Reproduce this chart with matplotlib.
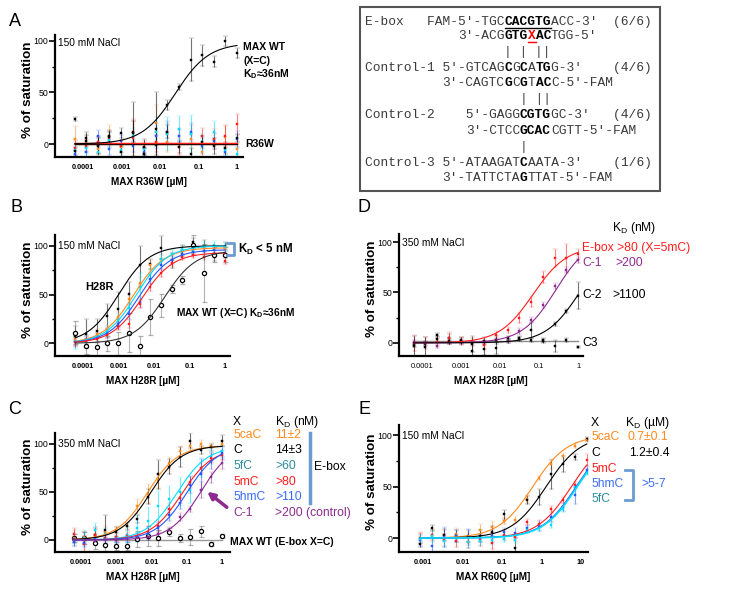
import matplotlib
matplotlib.use("Agg")
import matplotlib.pyplot as plt
import numpy as np
from matplotlib.colors import to_rgba
from matplotlib.lines import Line2D
from matplotlib.patches import Rectangle, FancyArrowPatch
from matplotlib.ticker import NullLocator

plt.rcParams["font.family"] = ["Liberation Sans", "DejaVu Sans"]
plt.rcParams["mathtext.fontset"] = "custom"
plt.rcParams["mathtext.rm"] = "Liberation Sans"
plt.rcParams["mathtext.bf"] = "Liberation Sans:bold"

W, H = 734, 596

# Colours
ORANGE = "#FF8A1E"
RED = "#FF1E1E"
BLUE = "#2458FF"
CYAN = "#00DDFF"
TEAL = "#2B8C9E"
PURPLE = "#8B2A8F"
BRACKET = "#6C9BD2"
TXT_BLUE = "#3B6CF6"

# Concentrations (uM), two-fold dilution series
conc_h = [0.000061, 0.000122, 0.000244, 0.000488, 0.000977, 0.00195, 0.0039,
          0.0078, 0.0156, 0.03125, 0.0625, 0.125, 0.25, 0.5, 1.0]
conc_r60q = [0.00085, 0.0017, 0.0034, 0.0068, 0.0137, 0.0273, 0.0547, 0.109,
             0.219, 0.4375, 0.875, 1.75, 3.5, 7.0, 14.0]

# ---- Panel A: MAX R36W, 150 mM NaCl
a_wt = [24, 3, -1, 7, 11, 11, -3, 15, 38, 55, 82, 86, 80, 100, 88]
a_wt_err = [2, 6, 8, 5, 5, 30, 8, 35, 5, 3, 21, 10, 5, 5, 5]
a_wt_fit = (98, 0.025)
a_r36w = {
    ORANGE: [5, 1, -5, 8, -3, 12, -10, 20, 2, 8, 5, -8, 4, 7, -5],
    RED: [-4, -2, 2, 5, -2, 6, -3, 2, 10, -3, 10, 8, 5, 8, 19],
    BLUE: [-10, -8, 8, -5, 3, -2, -8, 8, 12, 8, 12, -2, 3, -8, 5],
    CYAN: [-6, -4, -8, 4, -6, 8, -5, 12, 10, 15, 10, 2, 12, -6, -10],
    "black": [-7, 6, -2, 8, -8, 12, -10, -1, 12, -3, -10, 2, -2, -4, 6],
}
a_r36w_err = {
    ORANGE: [12, 8, 6, 10, 6, 10, 6, 18, 10, 8, 10, 8, 6, 10, 8],
    RED: [8, 6, 6, 8, 6, 18, 6, 10, 10, 8, 8, 8, 10, 10, 10],
    BLUE: [6, 8, 6, 6, 6, 6, 4, 12, 10, 6, 8, 8, 8, 4, 8],
    CYAN: [8, 6, 6, 8, 6, 8, 6, 14, 16, 12, 18, 8, 10, 6, 6],
    "black": [4, 6, 8, 6, 6, 10, 6, 10, 6, 6, 6, 6, 8, 6, 4],
}
a_r36w_level = {ORANGE: 0.5, "black": -0.3, RED: 0.9}

# ---- Panel B: MAX H28R, 150 mM NaCl
b_series = {
    "black": [8, 10, 13, 28, 35, 51, 80, 81, 98, 85, 95, 104, 100, 92, 100],
    ORANGE: [4, 3, 10, 14, 27, 45, 62, 80, 86, 90, 96, 95, 98, 96, 97],
    CYAN: [2, 1, 5, 12, 24, 36, 58, 70, 86, 92, 97, 95, 100, 101, 99],
    BLUE: [1, 3, 6, 10, 20, 30, 42, 66, 80, 85, 92, 94, 95, 96, 93],
    RED: [1, 2, 4, 9, 18, 20, 40, 58, 72, 82, 88, 90, 88, 90, 84],
}
b_err = {
    "black": [10, 15, 12, 12, 18, 12, 20, 5, 12, 8, 6, 4, 6, 8, 4],
    ORANGE: [6, 6, 5, 5, 5, 5, 6, 5, 5, 4, 4, 3, 3, 3, 3],
    CYAN: [8, 6, 6, 6, 6, 6, 14, 6, 6, 4, 4, 4, 4, 4, 4],
    BLUE: [5, 5, 5, 5, 5, 5, 5, 5, 5, 4, 4, 4, 4, 4, 4],
    RED: [4, 4, 4, 4, 4, 4, 4, 4, 4, 3, 3, 3, 3, 3, 3],
}
b_fit = {"black": (100, 0.001), ORANGE: (98, 0.0026), CYAN: (100, 0.0032),
         BLUE: (96, 0.0038), RED: (93, 0.0046)}
b_wt = [11, -3, -4, 0, 0, 11, -3, 27, 39, 56, 65, 101, 72, 91, 91]
b_wt_err = [12, 8, 10, 8, 12, 20, 10, 18, 12, 4, 4, 10, 30, 8, 8]
b_wt_fit = (95, 0.02)

# ---- Panel C: MAX H28R, 350 mM NaCl
c_series = {
    ORANGE: [2, 3, 5, 8, 10, 15, 35, 48, 62, 80, 92, 97, 100, 98, 100],
    "black": [0, 2, 5, 10, 8, 14, 22, 45, 68, 76, 86, 103, 93, 96, 103],
    CYAN: [1, 2, 10, 6, 3, 5, 12, 20, 35, 42, 50, 52, 75, 87, 92],
    RED: [6, -4, 5, 2, 3, 4, 3, 8, 14, 32, 44, 60, 75, 85, 88],
    BLUE: [-2, -3, 2, 1, 0, 2, 3, 6, 12, 26, 38, 57, 68, 82, 90],
    PURPLE: [1, 0, -1, 1, 0, 2, 2, 3, 6, 10, 24, 32, 52, 65, 80],
}
c_err = {
    ORANGE: [8, 6, 6, 6, 4, 4, 8, 10, 8, 6, 6, 4, 4, 3, 3],
    "black": [3, 6, 8, 16, 5, 4, 4, 8, 15, 8, 10, 8, 4, 4, 6],
    CYAN: [6, 8, 8, 6, 6, 8, 14, 14, 16, 14, 15, 14, 10, 8, 6],
    RED: [6, 8, 6, 6, 4, 4, 4, 6, 6, 6, 6, 6, 6, 5, 5],
    BLUE: [4, 4, 4, 4, 4, 4, 4, 6, 6, 6, 6, 8, 16, 8, 6],
    PURPLE: [2, 2, 2, 2, 2, 2, 2, 3, 3, 3, 4, 3, 8, 6, 6],
}
c_fit = {ORANGE: (98, 0.0076), "black": (98, 0.0094), CYAN: (97, 0.052),
         RED: (95, 0.071), BLUE: (98, 0.1), PURPLE: (100, 0.25)}
c_wt = [2, 2, -3, -5, -6, -6, 1, 4, 2, 8, 2, 3, 9, -4, 4]
c_wt_err = [4, 6, 6, 6, 4, 4, 8, 10, 8, 4, 4, 8, 6, 2, 2]
c_wt_level = 0

# ---- Panel D: MAX H28R, 350 mM NaCl, control DNAs
d_series = {
    RED: [0, 0, 1, 5, 2, 1, -2, 8, 13, 25, 41, 65, 84, 84, 88],
    PURPLE: [1, 0, -3, 1, 1, 0, 1, 3, 2, 12, 23, 38, 56, 72, 82],
    "black": [-3, -4, 4, 2, 2, -1, 2, 3, 5, 4, 13, 3, 19, 32, 47],
}
d_err = {
    RED: [8, 6, 4, 6, 4, 4, 4, 4, 3, 5, 5, 6, 9, 14, 5],
    PURPLE: [2, 2, 2, 2, 2, 2, 2, 2, 2, 3, 3, 3, 3, 3, 3],
    "black": [10, 10, 3, 3, 3, 8, 4, 4, 2, 2, 8, 2, 2, 2, 13],
}
d_fit = {RED: (96, 0.07), PURPLE: (105, 0.27), "black": (100, 1.1)}
d_c3 = [-2, -1, 8, 5, 3, -8, -6, -5, 2, 5, 3, 2, -3, 3, -4]
d_c3_err = [2, 2, 2, 4, 3, 10, 6, 6, 2, 2, 2, 2, 6, 2, 1]
d_c3_level = 2

# ---- Panel E: MAX R60Q, 150 mM NaCl
e_series = {
    ORANGE: [0, 3, 3, 4, 0, 8, 11, 17, 18, 38, 58, 72, 80, 90, 95],
    "black": [-6, 10, 3, 2, 2, 2, 6, 23, -10, 37, 40, 62, 72, 79, 96],
    RED: [0, 3, -2, -3, -4, -2, -5, 3, 1, 16, 14, 28, 37, 52, 76],
    BLUE: [-2, -8, 1, 2, 1, 0, 2, 6, 5, 10, 12, 20, 30, 42, 66],
    CYAN: [-1, 2, -3, 0, -4, -3, -2, -1, -2, 8, 10, 13, 28, 50, 64],
}
e_err = {
    ORANGE: [6, 6, 5, 6, 5, 6, 6, 3, 3, 4, 2, 5, 3, 2, 2],
    "black": [3, 3, 6, 6, 6, 6, 6, 4, 10, 4, 8, 14, 8, 3, 2],
    RED: [5, 5, 6, 6, 6, 6, 6, 5, 4, 3, 4, 3, 3, 3, 6],
    BLUE: [6, 8, 10, 6, 8, 4, 6, 4, 5, 3, 5, 4, 4, 9, 4],
    CYAN: [4, 6, 6, 4, 6, 4, 4, 3, 3, 3, 3, 3, 3, 3, 3],
}
e_fit = {ORANGE: (100, 0.6), "black": (100, 1.3), RED: (100, 5.7),
         BLUE: (100, 7.5), CYAN: (100, 8.0)}

# ---- DNA box text
BOX_LINES = [
    (22, "E-box   FAM-5′-TGCCACGTGACC-3′  (6/6)", [], list(range(18, 24)), []),
    (36, " " * 12 + "3′-ACGGTGXACTGG-5′", [18, 19, 20, 22, 23], [], [21]),
    (52, " " * 18 + "| | ||", [], [], []),
    (68, "Control-1 5′-GTCAGCGCATGG-3′    (4/6)", [18, 20, 22, 23], [], []),
    (83, " " * 10 + "3′-CAGTCGCGTACC-5′-FAM", [18, 20, 22, 23], [], []),
    (99, " " * 20 + "| ||", [], [], []),
    (115, "Control-2    5′-GAGGCGTGGC-3′   (4/6)", [20, 21, 22, 23], [], []),
    (131, " " * 13 + "3′-CTCCGCACCGTT-5′-FAM", [20, 21, 22, 23], [], []),
    (147, " " * 20 + "|", [], [], []),
    (163, "Control-3 5′-ATAAGATCAATA-3′    (1/6)", [20], [], []),
    (178, " " * 10 + "3′-TATTCTAGTTAT-5′-FAM", [20], [], []),
]

fig = plt.figure(figsize=(W / 100, H / 100), dpi=100)


def fx(x):
    return x / W


def fy(y):
    return 1 - y / H


def ftext(x, y, s, **kw):
    kw.setdefault("va", "center")
    kw.setdefault("ha", "left")
    fig.text(fx(x), fy(y), s, **kw)


def hill(x, top, kd):
    return top * x / (x + kd)


def make_panel(box, xlim, ylim, ticks, ticklabels, xlabel, bold_ticks=True):
    left, top, right, bottom = box
    wpx, hpx = right - left, bottom - top
    ax = fig.add_axes([fx(left), fy(bottom), wpx / W, hpx / H])
    ax.set_xscale("log")
    ax.set_xlim(xlim)
    ax.set_ylim(ylim)
    ax.patch.set_alpha(0)
    for s in ("top", "right"):
        ax.spines[s].set_visible(False)
    for s in ("left", "bottom"):
        ax.spines[s].set_linewidth(1.6)
    ax.set_xticks(ticks)
    ax.set_xticklabels(ticklabels, fontsize=5.3,
                       fontweight="bold" if bold_ticks else "normal")
    ax.xaxis.set_minor_locator(NullLocator())
    ax.tick_params(axis="x", length=0, pad=5)
    ax.set_yticks([0, 50, 100])
    ax.set_yticks([25, 75], minor=True)
    ax.tick_params(axis="y", which="major", length=4, width=1.2,
                   labelsize=6.3, pad=1)
    ax.tick_params(axis="y", which="minor", length=2.5, width=1)
    ax.set_ylabel("% of saturation", fontsize=9.6, fontweight="bold")
    ax.yaxis.set_label_coords(-21 / wpx, 0.55)
    ax.set_xlabel(xlabel, fontsize=7.2, fontweight="bold")
    ax.xaxis.set_label_coords(0.5, -20 / hpx)
    return ax


def draw_points(ax, xs, ys, err, color, open_marker=False, ms=1.7):
    ecol = to_rgba("0.45" if open_marker else color, 0.55)
    ax.errorbar(xs, ys, yerr=err, fmt="o" if open_marker else "s",
                ms=3.0 if open_marker else ms,
                mfc="white" if open_marker else color, mec=color,
                mew=0.9 if open_marker else 0.3,
                ecolor=ecol, elinewidth=0.8, capsize=1.8, capthick=0.8,
                zorder=2)


def draw_fit(ax, xs, top, kd, color, lw=0.8):
    xf = np.logspace(np.log10(xs[0]), np.log10(xs[-1]), 200)
    ax.plot(xf, hill(xf, top, kd), color=color, lw=lw, zorder=3)


dec_h = [1e-4, 1e-3, 1e-2, 1e-1, 1]
dec_h_lab = ["0.0001", "0.001", "0.01", "0.1", "1"]
dec_e = [1e-3, 1e-2, 1e-1, 1, 10]
dec_e_lab = ["0.001", "0.01", "0.1", "1", "10"]

# ---------------- Panel A
axA = make_panel((55, 35, 243, 157), (10**-4.727, 10**0.156), (-12.6, 105.8),
                 dec_h, dec_h_lab, "MAX R36W [µM]")
for col, ys in a_r36w.items():
    draw_points(axA, conc_h, ys, a_r36w_err[col], col)
for col, lvl in a_r36w_level.items():
    axA.plot([conc_h[0], conc_h[-1]], [lvl, lvl], color=col,
             lw=1.6 if col == ORANGE else 1.0, zorder=3)
draw_points(axA, conc_h, a_wt, a_wt_err, "black")
draw_fit(axA, conc_h, *a_wt_fit, "black")

# ---------------- Panel B
axB = make_panel((55, 235, 230, 356), (10**-4.79, 10**0.14), (-13, 111),
                 dec_h, dec_h_lab, "MAX H28R [µM]")
for col, ys in b_series.items():
    draw_points(axB, conc_h, ys, b_err[col], col)
    draw_fit(axB, conc_h, *b_fit[col], col)
draw_points(axB, conc_h, b_wt, b_wt_err, "black", open_marker=True)
draw_fit(axB, conc_h, *b_wt_fit, "0.2")

# ---------------- Panel C
axC = make_panel((55, 433, 230, 552), (10**-4.74, 10**0.227), (-12.5, 111),
                 dec_h, dec_h_lab, "MAX H28R [µM]")
axC.plot([conc_h[0], conc_h[-1]], [c_wt_level, c_wt_level], color="0.6",
         lw=1.0, zorder=1)
draw_points(axC, conc_h, c_wt, c_wt_err, "black", open_marker=True)
for col, ys in c_series.items():
    draw_points(axC, conc_h, ys, c_err[col], col)
    draw_fit(axC, conc_h, *c_fit[col], col)

# ---------------- Panel D
axD = make_panel((399, 234, 583, 356), (10**-4.59, 10**0.128), (-13, 108),
                 dec_h, dec_h_lab, "MAX H28R [µM]", bold_ticks=False)
axD.plot([conc_h[0], conc_h[-1]], [d_c3_level, d_c3_level], color="0.55",
         lw=1.0, zorder=1)
draw_points(axD, conc_h, d_c3, d_c3_err, "black")
for col, ys in d_series.items():
    draw_points(axD, conc_h, ys, d_err[col], col)
    draw_fit(axD, conc_h, *d_fit[col], col)

# ---------------- Panel E
axE = make_panel((399, 425, 588, 552), (10**-3.61, 10**1.177), (-13.6, 110),
                 dec_e, dec_e_lab, "MAX R60Q [µM]")
for col, ys in e_series.items():
    draw_points(axE, conc_r60q, ys, e_err[col], col)
    draw_fit(axE, conc_r60q, *e_fit[col], col, lw=1.2 if col == CYAN else 0.8)

# ---------------- Panel letters
for letter, (x, y) in {"A": (15, 21), "B": (16, 208), "C": (15, 410),
                       "D": (364, 208), "E": (364, 410)}.items():
    ftext(x, y, letter, fontsize=13, ha="center")

# ---------------- Annotations
for x, y in [(58, 43), (58, 246)]:
    ftext(x, y, "150 mM NaCl", fontsize=7.3)
ftext(58, 444, "350 mM NaCl", fontsize=7.3)
ftext(402, 243, "350 mM NaCl", fontsize=7.3)
ftext(402, 436, "150 mM NaCl", fontsize=7.3)

# A
ftext(243, 47, "MAX WT", fontsize=7.5, fontweight="bold")
ftext(243, 61, "(X=C)", fontsize=7.5, fontweight="bold")
ftext(243, 74, r"K$_\mathbf{D}$≈36nM", fontsize=7.5, fontweight="bold")
ftext(245, 144, "R36W", fontsize=7.5, fontweight="bold")

# B
ftext(238, 249, r"K$_\mathbf{D}$ < 5 nM", fontsize=8.3, fontweight="bold")
fig.add_artist(Line2D([fx(227), fx(234), fx(234), fx(227)],
                      [fy(243), fy(243), fy(255), fy(255)],
                      color=BRACKET, lw=2))
ftext(85, 287, "H28R", fontsize=8, fontweight="bold")
ftext(176, 313, r"MAX WT (X=C) K$_\mathbf{D}$≈36nM", fontsize=7.3,
      fontweight="bold")

# C
TFS = 8.7
ftext(233, 422, "X", fontsize=TFS)
ftext(275, 422, r"K$_\mathrm{D}$ (nM)", fontsize=TFS)
c_rows = [("5caC", "11±2", ORANGE, 435), ("C", "14±3", "black", 450),
          ("5fC", ">60", TEAL, 466), ("5mC", ">80", RED, 482),
          ("5hmC", ">110", TXT_BLUE, 497), ("C-1", ">200 (control)", PURPLE, 513)]
for lab, val, col, y in c_rows:
    ftext(233, y, lab, fontsize=TFS, color=col)
    ftext(275, y, val, fontsize=TFS, color=col)
fig.add_artist(Line2D([fx(310), fx(310)], [fy(433), fy(503)], color=BRACKET,
                      lw=2.5))
ftext(314, 467, "E-box", fontsize=TFS)
ftext(230, 542, "MAX WT (E-box X=C)", fontsize=7.5, fontweight="bold")
fig.add_artist(FancyArrowPatch((fx(229), fy(509)), (fx(205), fy(490)),
                               transform=fig.transFigure, arrowstyle="-|>",
                               mutation_scale=10, lw=2.5, color=PURPLE))

# D
ftext(612, 228, r"K$_\mathrm{D}$ (nM)", fontsize=TFS)
ftext(582, 248, "E-box >80 (X=5mC)", fontsize=TFS, color=RED)
ftext(582, 263, "C-1", fontsize=TFS, color=PURPLE)
ftext(615, 263, ">200", fontsize=TFS, color=PURPLE)
ftext(582, 295, "C-2", fontsize=TFS)
ftext(612, 295, ">1100", fontsize=TFS)
ftext(582, 343, "C3", fontsize=TFS)

# E
ftext(591, 423, "X", fontsize=TFS)
ftext(625, 423, r"K$_\mathrm{D}$ (µM)", fontsize=TFS)
ftext(591, 437, "5caC", fontsize=TFS, color=ORANGE)
ftext(628, 437, "0.7±0.1", fontsize=TFS, color=ORANGE)
ftext(591, 453, "C", fontsize=TFS)
ftext(629, 453, "1.2±0.4", fontsize=TFS)
ftext(591, 469, "5mC", fontsize=TFS, color=RED)
ftext(591, 484, "5hmC", fontsize=TFS, color=TXT_BLUE)
ftext(591, 499, "5fC", fontsize=TFS, color=TEAL)
fig.add_artist(Line2D([fx(625), fx(633), fx(633), fx(625)],
                      [fy(470), fy(470), fy(500), fy(500)],
                      color=BRACKET, lw=2))
ftext(641, 484, ">5-7", fontsize=TFS, color=TXT_BLUE)

# ---------------- DNA sequence box
fig.add_artist(Rectangle((fx(360), fy(191)), (660 - 360) / W, (191 - 7) / H,
                         transform=fig.transFigure, fill=False,
                         edgecolor="#555555", lw=1.5))
MONO = ["Liberation Mono", "DejaVu Sans Mono"]
FS_MONO = 9.3
CW = 0.6 * FS_MONO * 100 / 72
X0 = 365


def style_at(i, bold, under, red):
    if i in red:
        return "r"
    if i in under:
        return "u"
    if i in bold:
        return "b"
    return "n"


for y, text, bold, under, red in BOX_LINES:
    i = 0
    while i < len(text):
        st = style_at(i, bold, under, red)
        j = i
        while j < len(text) and style_at(j, bold, under, red) == st:
            j += 1
        seg = text[i:j]
        lead = len(seg) - len(seg.lstrip(" "))
        seg = seg.strip(" ")
        if seg:
            x = X0 + (i + lead) * CW
            color = {"r": "red", "u": "black", "b": "black"}.get(st, "#3a3a3a")
            ftext(x, y, seg, family=MONO, fontsize=FS_MONO, color=color,
                  fontweight="normal" if st == "n" else "bold")
            if st in ("u", "r"):
                fig.add_artist(Line2D([fx(x), fx(x + len(seg) * CW)],
                                      [fy(y + 6), fy(y + 6)], color=color,
                                      lw=1))
        i = j

fig.savefig("out.png", dpi=100)
